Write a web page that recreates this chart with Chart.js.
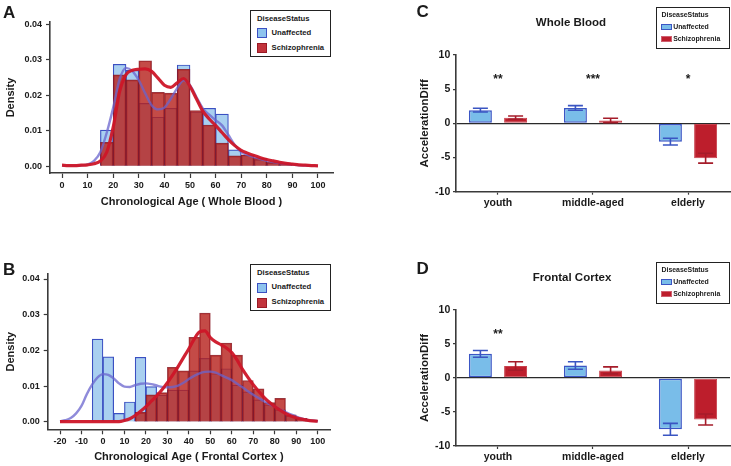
<!DOCTYPE html>
<html><head><meta charset="utf-8">
<script src="https://cdn.jsdelivr.net/npm/chart.js@4.4.1/dist/chart.umd.min.js"></script>
<style>
html,body{margin:0;padding:0;background:#fff;}
body{width:731px;height:466px;position:relative;overflow:hidden;font-family:"Liberation Sans",Arial,Helvetica,sans-serif;color:#1a1a1a;}
canvas{position:absolute;}
.letter{position:absolute;font-weight:bold;font-size:17px;line-height:17px;}
.ptitle{position:absolute;font-weight:bold;font-size:11.5px;line-height:14px;text-align:center;width:160px;}
.leg{position:absolute;border:1.2px solid #222;background:#fff;box-sizing:border-box;}
.leg span{position:absolute;font-weight:bold;white-space:nowrap;}
.leg i{position:absolute;box-sizing:border-box;display:block;}
</style></head>
<body>
<canvas id="cA" width="370" height="215" style="left:0;top:0"></canvas>
<canvas id="cB" width="370" height="236" style="left:0;top:230px"></canvas>
<canvas id="cC" width="361" height="230" style="left:370px;top:0"></canvas>
<canvas id="cD" width="361" height="236" style="left:370px;top:230px"></canvas>
<div class="letter" style="left:3px;top:3.8px">A</div>
<div class="letter" style="left:3px;top:260.5px">B</div>
<div class="letter" style="left:416.5px;top:2.8px">C</div>
<div class="letter" style="left:416.5px;top:260px">D</div>
<div class="ptitle" id="tC" style="left:491px;top:15.4px"></div>
<div class="ptitle" id="tD" style="left:492px;top:270.4px"></div>
<div class="leg" id="legA" style="left:250px;top:10px;width:81px;height:47px"></div>
<div class="leg" id="legB" style="left:250px;top:264.3px;width:81px;height:47px"></div>
<div class="leg" id="legC" style="left:656px;top:7px;width:73.5px;height:41.5px"></div>
<div class="leg" id="legD" style="left:656px;top:262px;width:73.5px;height:41.5px"></div>
<script>
// ---------------- DATA ----------------
const legendTitle = 'DiseaseStatus';
const seriesNames = ['Unaffected', 'Schizophrenia'];

// Panel A: Whole blood age histograms (density, 5-year bins)
const wbBinCenters = [17.5,22.5,27.5,32.5,37.5,42.5,47.5,52.5,57.5,62.5,67.5,72.5,77.5,82.5,87.5];
const wbHistUnaffected = [0.0102,0.0287,0.0270,0.0177,0.0138,0.0163,0.0285,0.0153,0.0163,0.0147,0.0046,0.0031,0.0018,0.0009,0.0005];
const wbHistSchizo = [0.0067,0.0257,0.0243,0.0297,0.0208,0.0206,0.0273,0.0157,0.0116,0.0065,0.0029,0.0032,0.0022,0.0012,0.0008];
// Panel A density curves
const wbKdeAges = [0,2.5,5,7.5,10,12.5,15,17.5,20,22.5,25,27.5,30,32.5,35,37.5,40,42.5,45,47.5,50,52.5,55,57.5,60,62.5,65,67.5,70,72.5,75,77.5,80,82.5,85,87.5,90,92.5,95,97.5,100];
const wbKdeUnaffected = [0.0002,0.0001,0.0001,0.0002,0.0005,0.0015,0.0040,0.0095,0.0165,0.0245,0.0277,0.0268,0.0242,0.0205,0.0172,0.0160,0.0165,0.0190,0.0220,0.0242,0.0228,0.0195,0.0163,0.0145,0.0130,0.0115,0.0088,0.0060,0.0040,0.0032,0.0026,0.0020,0.0015,0.0012,0.0009,0.0007,0.0005,0.0003,0.0002,0.0001,0.0001];
const wbKdeSchizo = [0.0003,0.0002,0.0002,0.0003,0.0004,0.0007,0.0015,0.0040,0.0110,0.0210,0.0258,0.0270,0.0273,0.0274,0.0267,0.0248,0.0228,0.0222,0.0235,0.0247,0.0225,0.0190,0.0155,0.0133,0.0115,0.0095,0.0075,0.0058,0.0045,0.0037,0.0030,0.0024,0.0019,0.0015,0.0011,0.0008,0.0006,0.0004,0.0003,0.0002,0.0001];

// Panel B: Frontal cortex age histograms
const fcBinCenters = [-2.5,2.5,7.5,12.5,17.5,22.5,27.5,32.5,37.5,42.5,47.5,52.5,57.5,62.5,67.5,72.5,77.5,82.5,87.5,92.5,97.5];
const fcHistUnaffected = [0.0232,0.0182,0.0024,0.0056,0.0181,0.0099,0.0075,0.0089,0.0089,0.0143,0.0178,0.0135,0.0149,0.0103,0.0084,0.0062,0.0048,0.0034,0.0017,0.0010,0.0003];
const fcHistSchizo = [null,null,null,null,0.0027,0.0076,0.0082,0.0153,0.0143,0.0237,0.0305,0.0187,0.0221,0.0187,0.0116,0.0093,0.0054,0.0066,0.0020,0.0010,0.0005];
// Panel B density curves
const fcKdeAges = [-20,-17.5,-15,-12.5,-10,-7.5,-5,-2.5,0,2.5,5,7.5,10,12.5,15,17.5,20,22.5,25,27.5,30,32.5,35,37.5,40,42.5,45,47.5,50,52.5,55,57.5,60,62.5,65,67.5,70,72.5,75,77.5,80,82.5,85,87.5,90,92.5,95,97.5,100];
const fcKdeUnaffected = [0.0002,0.0005,0.0011,0.0024,0.0045,0.0078,0.0105,0.0125,0.0134,0.0132,0.0122,0.0108,0.0099,0.0098,0.0103,0.0107,0.0108,0.0106,0.0102,0.0098,0.0097,0.0098,0.0102,0.0110,0.0120,0.0129,0.0136,0.0140,0.0141,0.0138,0.0131,0.0124,0.0117,0.0107,0.0097,0.0086,0.0076,0.0067,0.0058,0.0050,0.0043,0.0035,0.0028,0.0021,0.0015,0.0010,0.0006,0.0004,0.0002];
const fcKdeSchizo = [0.0001,0.0001,0.0001,0.0001,0.0001,0.0001,0.0001,0.0001,0.0001,0.0001,0.0001,0.0001,0.0004,0.0009,0.0018,0.0030,0.0043,0.0058,0.0073,0.0090,0.0110,0.0132,0.0155,0.0180,0.0205,0.0232,0.0252,0.0255,0.0236,0.0224,0.0216,0.0207,0.0194,0.0173,0.0147,0.0125,0.0104,0.0086,0.0069,0.0055,0.0043,0.0033,0.0024,0.0017,0.0012,0.0008,0.0005,0.0003,0.0002];

// Tick labels
const densityTicks = [0, 0.01, 0.02, 0.03, 0.04];
const wbAgeTicks = [0,10,20,30,40,50,60,70,80,90,100];
const fcAgeTicks = [-20,-10,0,10,20,30,40,50,60,70,80,90,100];
const accelTicks = [-10,-5,0,5,10];

// Panels C & D: acceleration difference by age group
const ageGroups = ['youth', 'middle-aged', 'elderly'];
const wbAccelUnaffected = [1.93, 2.25, -2.68];
const wbAccelUnaffectedSE = [0.27, 0.34, 0.49];
const wbAccelSchizo = [0.83, 0.42, -5.10];
const wbAccelSchizoSE = [0.24, 0.32, 0.72];
const wbSignif = ['**', '***', '*'];
const fcAccelUnaffected = [3.55, 1.84, -7.55];
const fcAccelUnaffectedSE = [0.49, 0.55, 0.88];
const fcAccelSchizo = [1.76, 1.12, -6.10];
const fcAccelSchizoSE = [0.62, 0.51, 0.81];
const fcSignif = ['**', '', ''];
const signifLevel = 6.9;

// ---------------- STYLE ----------------
const AXIS = '#3a3a3a';
const FONT = '"Liberation Sans", Arial, Helvetica, sans-serif';
Chart.defaults.font.family = FONT;
Chart.defaults.font.weight = 'bold';
Chart.defaults.color = '#1a1a1a';

function fixedTicks(vals) { return s => { s.ticks = vals.map(v => ({ value: v })); }; }
function pts(xs, ys) { return xs.map((x, i) => ({ x: x, y: ys[i] })); }

function histChart(id, g) {
  return new Chart(document.getElementById(id), {
    type: 'bar',
    data: { datasets: [
      { type: 'line', label: seriesNames[1] + ' density', data: pts(g.kdeX, g.kdeS), borderColor: 'rgba(206,22,40,0.95)', borderWidth: 3.2, pointRadius: 0, cubicInterpolationMode: 'monotone', fill: false, order: 1 },
      { type: 'line', label: seriesNames[0] + ' density', data: pts(g.kdeX, g.kdeU), borderColor: 'rgba(105,100,205,0.75)', borderWidth: 2.4, pointRadius: 0, cubicInterpolationMode: 'monotone', fill: false, order: 2 },
      { type: 'bar', label: seriesNames[1], data: pts(g.bins, g.hS), backgroundColor: 'rgba(183,35,30,0.82)', borderColor: 'rgba(135,20,30,0.85)', borderWidth: 1, order: 3, grouped: false, barPercentage: 1, categoryPercentage: 1 },
      { type: 'bar', label: seriesNames[0], data: pts(g.bins, g.hU), backgroundColor: '#a9d0f0', borderColor: '#3b50c2', borderWidth: 1.2, order: 4, grouped: false, barPercentage: 1, categoryPercentage: 1 }
    ] },
    options: {
      responsive: false, animation: false, devicePixelRatio: 1, events: [],
      layout: { padding: { left: 0, right: g.padRight, top: g.padTop, bottom: 0 } },
      plugins: { legend: { display: false }, tooltip: { enabled: false } },
      scales: {
        x: { type: 'linear', bounds: 'data', min: g.xMin, max: g.xMax, offset: false,
             afterBuildTicks: fixedTicks(g.xTicks), afterFit: s => { s.height = g.xH; },
             grid: { display: true, drawOnChartArea: false, drawTicks: true, tickLength: 5, tickColor: AXIS, tickWidth: 1.2, offset: false },
             border: { display: true, color: AXIS, width: 1.6 },
             ticks: { font: { size: 9, weight: 'bold' }, padding: g.xTickPad, maxRotation: 0, autoSkip: false, callback: v => String(v) },
             title: { display: true, text: g.xTitle, font: { size: 11, weight: 'bold' }, padding: { top: 0, bottom: g.xTitlePad } } },
        y: { type: 'linear', bounds: 'data', min: g.yMin, max: g.yMax,
             afterBuildTicks: fixedTicks(densityTicks), afterFit: s => { s.width = g.yW; },
             grid: { display: true, drawOnChartArea: false, drawTicks: true, tickLength: 4, tickColor: AXIS, tickWidth: 1.2 },
             border: { display: true, color: AXIS, width: 1.6 },
             ticks: { font: { size: 9, weight: 'bold' }, padding: 4, autoSkip: false, callback: v => v.toFixed(2) },
             title: { display: true, text: 'Density', font: { size: 11, weight: 'bold' }, padding: { top: 4.4, bottom: 0 } } }
      }
    }
  });
}

histChart('cA', { bins: wbBinCenters, hU: wbHistUnaffected, hS: wbHistSchizo, kdeX: wbKdeAges, kdeU: wbKdeUnaffected, kdeS: wbKdeSchizo,
  xMin: -4.69, xMax: 105.86, yMin: -0.0019, yMax: 0.0406, xTicks: wbAgeTicks, padRight: 37, padTop: 22, xH: 42, yW: 50, xTickPad: 2, xTitlePad: 6.4,
  xTitle: 'Chronological Age ( Whole Blood )' });
histChart('cB', { bins: fcBinCenters, hU: fcHistUnaffected, hS: fcHistSchizo, kdeX: fcKdeAges, kdeU: fcKdeUnaffected, kdeS: fcKdeSchizo,
  xMin: -25.73, xMax: 105.73, yMin: -0.00205, yMax: 0.0414, xTicks: fcAgeTicks, padRight: 40, padTop: 44, xH: 36.7, yW: 47.7, xTickPad: 1.5, xTitlePad: 2.7,
  xTitle: 'Chronological Age ( Frontal Cortex )' });

// error bars + significance labels
const barExtras = {
  id: 'barExtras',
  afterDatasetsDraw(chart) {
    const ctx = chart.ctx, ys = chart.scales.y, xs = chart.scales.x;
    chart.data.datasets.forEach((ds, di) => {
      if (!ds.errors) return;
      const meta = chart.getDatasetMeta(di);
      meta.data.forEach((bar, i) => {
        const v = ds.data[i].y, e = ds.errors[i];
        const yT = ys.getPixelForValue(v + e), yB = ys.getPixelForValue(v - e);
        const cap = 7.5;
        ctx.save();
        ctx.strokeStyle = ds.errorColor; ctx.lineWidth = 1.6;
        ctx.beginPath();
        ctx.moveTo(bar.x, yT); ctx.lineTo(bar.x, yB);
        ctx.moveTo(bar.x - cap, yT); ctx.lineTo(bar.x + cap, yT);
        ctx.moveTo(bar.x - cap, yB); ctx.lineTo(bar.x + cap, yB);
        ctx.stroke();
        ctx.restore();
      });
    });
    const sig = chart.options.plugins.barExtras.signif || [];
    ctx.save();
    ctx.fillStyle = '#1a1a1a';
    ctx.font = 'bold 12px ' + FONT;
    ctx.textAlign = 'center';
    ctx.textBaseline = 'alphabetic';
    sig.forEach((s, i) => {
      if (!s) return;
      ctx.fillText(s, xs.getPixelForValue(i), ys.getPixelForValue(signifLevel) + 6.9);
    });
    ctx.restore();
  }
};

function accelChart(id, g) {
  return new Chart(document.getElementById(id), {
    type: 'bar',
    plugins: [barExtras],
    data: { datasets: [
      { label: seriesNames[0], data: pts([0, 1, 2], g.u), errors: g.uSE, errorColor: '#3a55c2', backgroundColor: '#79bde9', borderColor: '#3b55c4', borderWidth: 1.5, borderSkipped: false, categoryPercentage: 0.741, barPercentage: 0.653 },
      { label: seriesNames[1], data: pts([0, 1, 2], g.s), errors: g.sSE, errorColor: '#a51c2a', backgroundColor: '#bd1e2c', borderColor: '#c8404c', borderWidth: 1, borderSkipped: false, categoryPercentage: 0.741, barPercentage: 0.653 }
    ] },
    options: {
      responsive: false, animation: false, devicePixelRatio: 1, events: [],
      layout: { padding: { left: 0, right: 1, top: g.padTop, bottom: 0 } },
      plugins: { legend: { display: false }, tooltip: { enabled: false }, barExtras: { signif: g.sig } },
      scales: {
        x: { type: 'linear', bounds: 'data', min: -0.442, max: 2.442, offset: false,
             afterBuildTicks: fixedTicks([0, 1, 2]), afterFit: s => { s.height = g.xH; },
             grid: { display: true, drawOnChartArea: false, drawTicks: true, tickLength: 3, tickColor: AXIS, tickWidth: 1.2, offset: false },
             border: { display: true, color: AXIS, width: 1.6 },
             ticks: { font: { size: 10.5, weight: 'bold' }, padding: 2.3, maxRotation: 0, autoSkip: false, callback: v => ageGroups[v] },
             title: { display: false } },
        y: { type: 'linear', bounds: 'data', min: -10, max: 10,
             afterBuildTicks: fixedTicks(accelTicks), afterFit: s => { s.width = 86; },
             grid: { display: true, drawOnChartArea: true, drawTicks: true, tickLength: 3, tickColor: AXIS, tickWidth: 1.2,
                     color: c => (c.tick && c.tick.value === 0) ? '#2a2a2a' : 'rgba(0,0,0,0)', lineWidth: 1.3 },
             border: { display: true, color: AXIS, width: 1.6 },
             ticks: { font: { size: 10.5, weight: 'bold' }, padding: 2.7, autoSkip: false, callback: v => String(v) },
             title: { display: true, text: 'AccelerationDiff', font: { size: 11.5, weight: 'bold' }, padding: { top: 48.4, bottom: 0 } } }
      }
    }
  });
}

accelChart('cC', { u: wbAccelUnaffected, uSE: wbAccelUnaffectedSE, s: wbAccelSchizo, sSE: wbAccelSchizoSE, sig: wbSignif, padTop: 55, xH: 38.3 });
accelChart('cD', { u: fcAccelUnaffected, uSE: fcAccelUnaffectedSE, s: fcAccelSchizo, sSE: fcAccelSchizoSE, sig: fcSignif, padTop: 80, xH: 20 });

document.getElementById('tC').textContent = 'Whole Blood';
document.getElementById('tD').textContent = 'Frontal Cortex';

// legends
function buildLegend(id, big) {
  const el = document.getElementById(id);
  const fs = big ? 7.7 : 6.9;
  const add = (html) => { el.insertAdjacentHTML('beforeend', html); };
  const lh = 10;
  if (big) {
    add(`<span style="left:6px;top:${9.3 - lh/2 - 1.2}px;font-size:${fs}px;line-height:${lh}px">${legendTitle}</span>`);
    add(`<i style="left:5.5px;top:17.3px;width:10px;height:10px;border:1.3px solid #3b50c2;background:linear-gradient(#8ec3ee 0 44%,#3b50c2 44% 56%,#8ec3ee 56%)"></i>`);
    add(`<span style="left:20.5px;top:${23.3 - lh/2 - 1.2}px;font-size:${fs}px;line-height:${lh}px">${seriesNames[0]}</span>`);
    add(`<i style="left:5.5px;top:32.3px;width:10px;height:10px;border:1.3px solid #9a1a26;background:linear-gradient(#c2343c 0 44%,#9a1a26 44% 56%,#c2343c 56%)"></i>`);
    add(`<span style="left:20.5px;top:${38.3 - lh/2 - 1.2}px;font-size:${fs}px;line-height:${lh}px">${seriesNames[1]}</span>`);
  } else {
    add(`<span style="left:4.5px;top:${8 - lh/2 - 1.2}px;font-size:${fs}px;line-height:${lh}px">${legendTitle}</span>`);
    add(`<i style="left:4px;top:16.3px;width:10.7px;height:6px;border:1.2px solid #3b55c4;background:#79bde9"></i>`);
    add(`<span style="left:16.2px;top:${20.3 - lh/2 - 1.2}px;font-size:${fs}px;line-height:${lh}px">${seriesNames[0]}</span>`);
    add(`<i style="left:4px;top:28px;width:10.7px;height:6px;border:1px solid #d06070;background:#bd1e2c"></i>`);
    add(`<span style="left:16.2px;top:${32 - lh/2 - 1.2}px;font-size:${fs}px;line-height:${lh}px">${seriesNames[1]}</span>`);
  }
}
buildLegend('legA', true);
buildLegend('legB', true);
buildLegend('legC', false);
buildLegend('legD', false);
</script>
</body></html>
